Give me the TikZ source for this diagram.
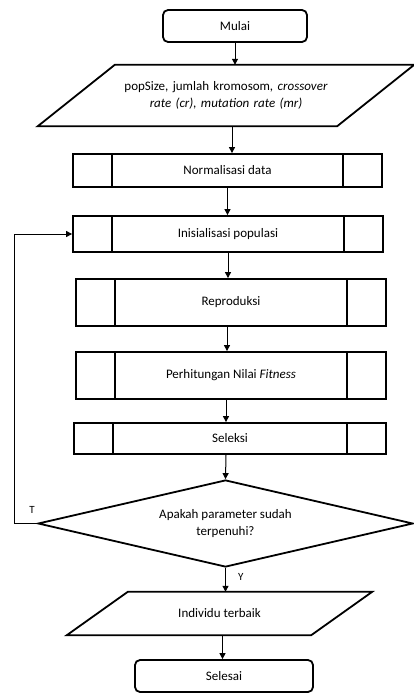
\documentclass[tikz,border=0pt]{standalone}
\usepackage{fontspec}
\setmainfont{Carlito}
\usetikzlibrary{shapes.geometric,arrows.meta}

\begin{document}
\begin{tikzpicture}[x=1pt,y=-1pt,
  every node/.style={font=\fontsize{13}{17}\selectfont, inner sep=0pt},
  terminal/.style={draw, line width=1.8pt, rounded corners=5pt, minimum width=#1, minimum height=32pt},
  proses/.style={draw, line width=1.8pt, minimum width=310pt,
    path picture={\draw[line width=1.8pt]
      ([xshift=39pt]path picture bounding box.north west) -- ([xshift=39pt]path picture bounding box.south west)
      ([xshift=-39pt]path picture bounding box.north east) -- ([xshift=-39pt]path picture bounding box.south east);}},
  keputusan/.style={draw, shape=diamond, aspect=4.3, line width=1.8pt, minimum width=375pt, minimum height=87pt, align=center},
  garis/.style={line width=1.8pt, line join=miter},
  panah/.style={-{Triangle[length=6pt,width=6pt]}, line width=1pt},
  label/.style={font=\fontsize{11}{13}\selectfont}]
  \useasboundingbox (0,0) rectangle (414,693);

  % Mulai
  \node[terminal=144pt] (mulai) at (235,26) {Mulai};

  % Input parameter
  \node[minimum width=376pt, minimum height=61pt, text width=240pt, align=center] (input) at (226,95.5)
    {popSize, jumlah kromosom\textit{, crossover}\\ \textit{rate (cr), mutation rate (mr)}};
  \draw[garis] ([xshift=77pt]input.north west) -- (input.north east)
    -- ([xshift=-77pt]input.south east) -- (input.south west) -- cycle;

  % Proses
  \node[proses, minimum width=309pt, minimum height=33pt] (normal) at (227.5,170.5) {Normalisasi data};
  \node[proses, minimum height=36pt] (inisial) at (228,234) {Inisialisasi populasi};
  \node[proses, minimum height=47pt] (repro) at (231,302.5) {Reproduksi};
  \node[proses, minimum height=47pt] (hitung) at (231,375.5) {Perhitungan Nilai \textit{Fitness}};
  \node[proses, minimum width=312pt, minimum height=31pt] (seleksi) at (230,438.5) {Seleksi};

  % Kondisi berhenti
  \node[keputusan] (cek) at (225.5,523.5) {Apakah parameter sudah\\ terpenuhi?};

  % Output
  \node[minimum width=305pt, minimum height=43pt] (hasil) at (219.5,613.5) {Individu terbaik};
  \draw[garis] ([xshift=61pt]hasil.north west) -- (hasil.north east)
    -- ([xshift=-61pt]hasil.south east) -- (hasil.south west) -- cycle;

  % Selesai
  \node[terminal=178pt] (selesai) at (224,676) {Selesai};

  % Alur
  \draw[panah] (mulai.south) -- (mulai.south |- input.north);
  \draw[panah] ([xshift=6pt]input.south) -- ([xshift=6pt]input.south |- normal.north);
  \draw[panah] (normal.south) -- (normal.south |- inisial.north);
  \draw[panah] (inisial.south) -- (inisial.south |- repro.north);
  \draw[panah] ([xshift=-4pt]repro.south) -- ([xshift=-4pt]repro.south |- hitung.north);
  \draw[panah] ([xshift=-5pt]hitung.south) -- ([xshift=-5pt]hitung.south |- seleksi.north);
  \draw[panah] ([xshift=-4pt]seleksi.south) -- (cek.north);
  \draw[panah] (cek.south) -- node[label, pos=.4, right, xshift=12pt] {Y} (cek.south |- hasil.north);
  \draw[panah] ([xshift=3pt]hasil.south) -- ([xshift=3pt]hasil.south |- selesai.north);

  % Ulang jika belum terpenuhi
  \draw[line width=1pt] (cek.west) -- ++(-23,0) coordinate (belok);
  \draw[panah] (belok) |- (inisial.west);
  \node[label] (tandaT) at (32,510) {T};
\end{tikzpicture}
\end{document}
